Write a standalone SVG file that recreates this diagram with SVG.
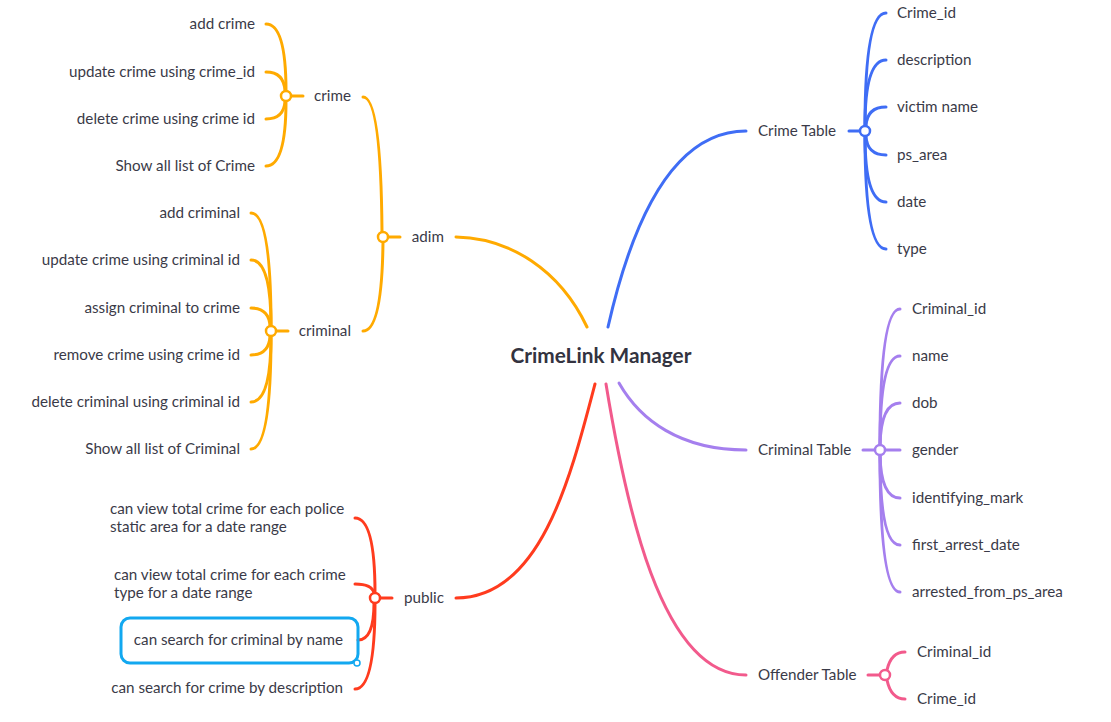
<svg xmlns="http://www.w3.org/2000/svg" width="1111" height="722" viewBox="0 0 1111 722">
<style>
text{font-family:Lato,"Open Sans","Liberation Sans",sans-serif;font-size:15.2px;fill:#3a3a48}
.c{font-size:20.8px;font-weight:bold;fill:#333340}
.e{text-anchor:end}
path,line{fill:none;stroke-width:3;stroke-linecap:round}
.jn{fill:#fff;stroke-width:2.5}
.or{stroke:#FFAA00}.bl{stroke:#3F6DF5}.pu{stroke:#A57FEE}.rd{stroke:#FF3B1E}.pk{stroke:#F25A8C}
</style>
<rect width="1111" height="722" fill="#fff"/>
<g id="connectors">
<path class="or" d="M456 237 C510 238 560 270 587 327"/>
<path class="bl" d="M608 327 C630 230 670 131 746 131"/>
<path class="pu" d="M619 383 C640 420 680 450 746 450"/>
<path class="rd" d="M595 384 C570 480 540 598 456 598"/>
<path class="pk" d="M606 384 C625 500 660 675 746 675"/>
<path class="or" d="M363 97 Q381 97 382 232"/>
<path class="or" d="M363 331 Q382 331 383 242"/>
<line class="or" x1="388" y1="237" x2="400" y2="237"/>
<line class="or" x1="291" y1="96" x2="303" y2="96"/>
<path class="or" d="M266 24 Q286 24 286 91"/>
<path class="or" d="M266 72 Q284 72 285 91"/>
<path class="or" d="M266 119 Q284 119 285 101"/>
<path class="or" d="M266 166 Q286 166 286 101"/>
<line class="or" x1="276" y1="331" x2="288" y2="331"/>
<path class="or" d="M251 213 Q271 213 271 326"/>
<path class="or" d="M251 260 Q271 260 271 326"/>
<path class="or" d="M251 308 Q269 308 270 326"/>
<path class="or" d="M251 355 Q269 355 270 336"/>
<path class="or" d="M251 402 Q271 402 271 336"/>
<path class="or" d="M251 449 Q271 449 271 336"/>
<line class="rd" x1="380" y1="598" x2="392" y2="598"/>
<path class="rd" d="M355 518 Q375 518 375 593"/>
<path class="rd" d="M355 584 Q372 584 374 593"/>
<path class="rd" d="M358 640 Q374 640 374 603"/>
<path class="rd" d="M355 689 Q375 689 375 603"/>
<line class="bl" x1="849" y1="131" x2="860" y2="131"/>
<path class="bl" d="M886 13 Q865 13 865 126"/>
<path class="bl" d="M886 60 Q865 60 865 126"/>
<path class="bl" d="M886 107 Q867 107 866 126"/>
<path class="bl" d="M886 155 Q867 155 866 136"/>
<path class="bl" d="M886 202 Q865 202 865 136"/>
<path class="bl" d="M886 249 Q865 249 865 136"/>
<line class="pu" x1="863" y1="450" x2="875" y2="450"/>
<line class="pu" x1="885" y1="450" x2="900" y2="450"/>
<path class="pu" d="M900 309 Q880 309 880 445"/>
<path class="pu" d="M900 356 Q880 356 880 445"/>
<path class="pu" d="M900 403 Q881 403 880 445"/>
<path class="pu" d="M900 498 Q881 498 880 455"/>
<path class="pu" d="M900 545 Q880 545 880 455"/>
<path class="pu" d="M900 592 Q880 592 880 455"/>
<line class="pk" x1="868" y1="675" x2="880" y2="675"/>
<path class="pk" d="M905 652 Q891 652 887 670"/>
<path class="pk" d="M905 699 Q891 699 887 680"/>
</g>
<g id="center"><text class="c" x="601" y="363" text-anchor="middle">CrimeLink Manager</text></g>
<g id="adim"><circle class="jn or" cx="383" cy="237" r="5"/><text class="e" x="444" y="242">adim</text></g>
<g id="crime"><circle class="jn or" cx="286" cy="96" r="5"/><text class="e" x="351" y="101">crime</text></g>
<g id="criminal"><circle class="jn or" cx="271" cy="331" r="5"/><text class="e" x="351" y="336">criminal</text></g>
<g id="crime-leaves">
<text class="e" x="255" y="29">add crime</text>
<text class="e" x="255" y="77">update crime using crime_id</text>
<text class="e" x="255" y="124">delete crime using crime id</text>
<text class="e" x="255" y="171">Show all list of Crime</text>
</g>
<g id="criminal-leaves">
<text class="e" x="240" y="218">add criminal</text>
<text class="e" x="240" y="265">update crime using criminal id</text>
<text class="e" x="240" y="313">assign criminal to crime</text>
<text class="e" x="240" y="360">remove crime using crime id</text>
<text class="e" x="240" y="407">delete criminal using criminal id</text>
<text class="e" x="240" y="454">Show all list of Criminal</text>
</g>
<g id="public"><circle class="jn rd" cx="375" cy="598" r="5"/><text class="e" x="444" y="603">public</text></g>
<g id="public-leaves">
<text x="110" y="514">can view total crime for each police</text>
<text x="110" y="532">static area for a date range</text>
<text x="114" y="580">can view total crime for each crime</text>
<text x="114" y="598">type for a date range</text>
<g id="selected">
<rect x="121" y="618" width="237" height="45" rx="9" fill="none" stroke="#12A8F0" stroke-width="3"/>
<circle cx="357" cy="663" r="3" fill="#fff" stroke="#12A8F0" stroke-width="1.5"/>
<text class="e" x="343" y="645">can search for criminal by name</text>
</g>
<text class="e" x="343" y="693">can search for crime by description</text>
</g>
<g id="crime-table"><circle class="jn bl" cx="865" cy="131" r="5"/><text x="758" y="136">Crime Table</text>
<text x="897" y="18">Crime_id</text>
<text x="897" y="65">description</text>
<text x="897" y="112">victim name</text>
<text x="897" y="160">ps_area</text>
<text x="897" y="207">date</text>
<text x="897" y="254">type</text>
</g>
<g id="criminal-table"><circle class="jn pu" cx="880" cy="450" r="5"/><text x="758" y="455">Criminal Table</text>
<text x="912" y="314">Criminal_id</text>
<text x="912" y="361">name</text>
<text x="912" y="408">dob</text>
<text x="912" y="455">gender</text>
<text x="912" y="503">identifying_mark</text>
<text x="912" y="550">first_arrest_date</text>
<text x="912" y="597">arrested_from_ps_area</text>
</g>
<g id="offender-table"><circle class="jn pk" cx="885" cy="675" r="5"/><text x="758" y="680">Offender Table</text>
<text x="917" y="657">Criminal_id</text>
<text x="917" y="704">Crime_id</text>
</g>
</svg>
